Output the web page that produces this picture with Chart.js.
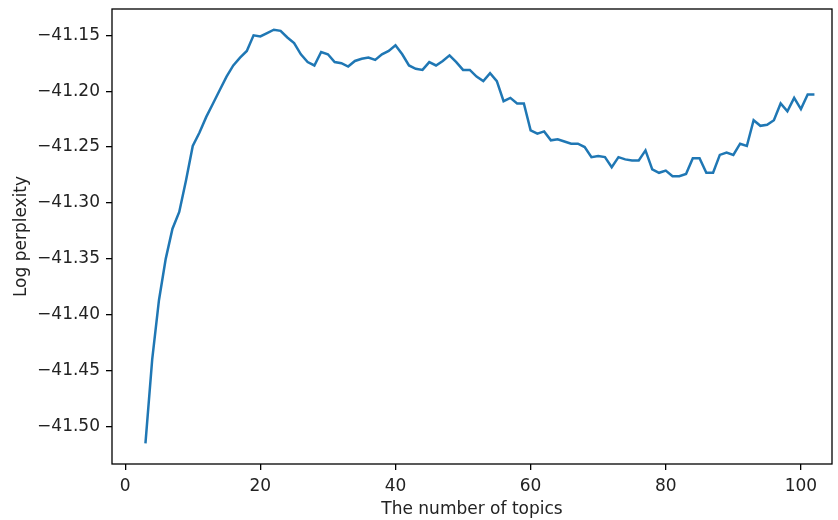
<!DOCTYPE html>
<html>
<head>
<meta charset="utf-8">
<script src="https://cdn.jsdelivr.net/npm/chart.js@4/dist/chart.umd.min.js"></script>
<style>
  html, body { margin: 0; padding: 0; background: #fff; }
  #wrap { width: 838px; height: 520px; position: relative; }
</style>
</head>
<body>
<div id="wrap"><canvas id="chart"></canvas></div>
<script>
// number of topics (x) and log perplexity (y)
const topics = [
  3, 4, 5, 6, 7, 8, 9, 10, 11, 12, 13, 14, 15, 16, 17, 18, 19, 20, 21, 22,
  23, 24, 25, 26, 27, 28, 29, 30, 31, 32, 33, 34, 35, 36, 37, 38, 39, 40, 41, 42,
  43, 44, 45, 46, 47, 48, 49, 50, 51, 52, 53, 54, 55, 56, 57, 58, 59, 60, 61, 62,
  63, 64, 65, 66, 67, 68, 69, 70, 71, 72, 73, 74, 75, 76, 77, 78, 79, 80, 81, 82,
  83, 84, 85, 86, 87, 88, 89, 90, 91, 92, 93, 94, 95, 96, 97, 98, 99, 100, 101, 102
]
const logPerplexity = [
  -41.515, -41.440, -41.387, -41.350, -41.323, -41.308, -41.280, -41.249, -41.237, -41.223,
  -41.211, -41.199, -41.187, -41.177, -41.170, -41.164, -41.150, -41.151, -41.148, -41.145,
  -41.146, -41.152, -41.157, -41.167, -41.174, -41.177, -41.165, -41.167, -41.174, -41.175,
  -41.178, -41.173, -41.171, -41.170, -41.172, -41.167, -41.164, -41.159, -41.167, -41.177,
  -41.180, -41.181, -41.174, -41.177, -41.173, -41.168, -41.174, -41.181, -41.181, -41.187,
  -41.191, -41.184, -41.191, -41.209, -41.206, -41.211, -41.211, -41.235, -41.238, -41.236,
  -41.244, -41.243, -41.245, -41.247, -41.247, -41.250, -41.259, -41.258, -41.259, -41.268,
  -41.259, -41.261, -41.262, -41.262, -41.253, -41.270, -41.273, -41.271, -41.276, -41.276,
  -41.274, -41.260, -41.260, -41.273, -41.273, -41.257, -41.255, -41.257, -41.247, -41.249,
  -41.226, -41.231, -41.230, -41.226, -41.211, -41.218, -41.206, -41.216, -41.203, -41.203
]
const xTicks = [0, 20, 40, 60, 80, 100]
const yTicks = [-41.50, -41.45, -41.40, -41.35, -41.30, -41.25, -41.20, -41.15]

const textColor = "#222"
const font = { family: "'DejaVu Sans', sans-serif", size: 17 }

// full box around the plot, like matplotlib spines
const spines = {
  id: "spines",
  afterDraw(chart) {
    const { ctx, chartArea: a } = chart
    ctx.save()
    ctx.strokeStyle = "#000"
    ctx.lineWidth = 1.3
    ctx.strokeRect(a.left, a.top, a.right - a.left, a.bottom - a.top)
    ctx.restore()
  }
}

new Chart(document.getElementById("chart"), {
  type: "line",
  data: {
    datasets: [{
      data: topics.map((t, i) => ({ x: t, y: logPerplexity[i] })),
      borderColor: "#1f77b4",
      borderWidth: 2.5,
      pointRadius: 0,
      tension: 0,
      fill: false
    }]
  },
  options: {
    responsive: true,
    maintainAspectRatio: false,
    animation: false,
    layout: { padding: { top: 9, right: 6, left: 0, bottom: 0 } },
    plugins: { legend: { display: false }, tooltip: { enabled: false } },
    scales: {
      x: {
        type: "linear",
        min: -1.95,
        max: 104.6,
        afterBuildTicks: s => { s.ticks = xTicks.map(v => ({ value: v })) },
        afterFit: s => { s.height = 56; s.paddingLeft = 0; s.paddingRight = 0 },
        border: { display: false },
        grid: { drawOnChartArea: false, drawTicks: true, tickLength: 6, color: "#000", lineWidth: 1.3 },
        ticks: { color: textColor, font, padding: 6, maxRotation: 0, callback: v => String(v) },
        title: { display: true, text: "The number of topics", color: textColor, font, padding: { top: 0, bottom: 0 } }
      },
      y: {
        min: -41.5335,
        max: -41.1265,
        afterBuildTicks: s => { s.ticks = yTicks.map(v => ({ value: v })) },
        afterFit: s => { s.width = 112; s.paddingTop = 0; s.paddingBottom = 0 },
        border: { display: false },
        grid: { drawOnChartArea: false, drawTicks: true, tickLength: 6, color: "#000", lineWidth: 1.3 },
        ticks: { color: textColor, font, padding: 6, callback: v => "\u2212" + Math.abs(v).toFixed(2) },
        title: { display: true, text: "Log perplexity", color: textColor, font, padding: { top: 11, bottom: 0 } }
      }
    }
  },
  plugins: [spines]
})
</script>
</body>
</html>
